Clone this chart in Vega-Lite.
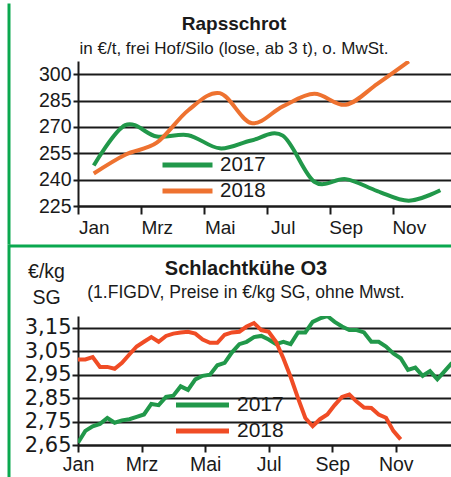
{
  "$schema": "https://vega.github.io/schema/vega-lite/v6.json",
  "background": "white",
  "padding": {"left": 5, "top": 0, "right": 0, "bottom": 0},
  "spacing": 110,
  "bounds": "flush",
  "config": {
    "font": "Liberation Sans",
    "view": {"stroke": null},
    "axis": {
      "labelColor": "#1a1a1a",
      "domainColor": "#1a1a1a",
      "tickColor": "#1a1a1a",
      "gridColor": "#1a1a1a",
      "gridOpacity": 1,
      "domainWidth": 2,
      "tickWidth": 2,
      "gridWidth": 2,
      "title": null
    },
    "legend": {"labelColor": "#1a1a1a"}
  },
  "datasets": {
    "raps": [
      {"jahr": "2017", "monat": 1, "preis": 248},
      {"jahr": "2017", "monat": 2, "preis": 271},
      {"jahr": "2017", "monat": 3, "preis": 264.5},
      {"jahr": "2017", "monat": 4, "preis": 265.3},
      {"jahr": "2017", "monat": 5, "preis": 257.8},
      {"jahr": "2017", "monat": 6, "preis": 262.3},
      {"jahr": "2017", "monat": 7, "preis": 265},
      {"jahr": "2017", "monat": 8, "preis": 238.8},
      {"jahr": "2017", "monat": 9, "preis": 240.3},
      {"jahr": "2017", "monat": 10, "preis": 233.5},
      {"jahr": "2017", "monat": 11, "preis": 228},
      {"jahr": "2017", "monat": 12, "preis": 234},
      {"jahr": "2018", "monat": 1, "preis": 243.5},
      {"jahr": "2018", "monat": 2, "preis": 254.2},
      {"jahr": "2018", "monat": 3, "preis": 261},
      {"jahr": "2018", "monat": 4, "preis": 279.5},
      {"jahr": "2018", "monat": 5, "preis": 289.2},
      {"jahr": "2018", "monat": 6, "preis": 272.2},
      {"jahr": "2018", "monat": 7, "preis": 281.7},
      {"jahr": "2018", "monat": 8, "preis": 288.8},
      {"jahr": "2018", "monat": 9, "preis": 282.6},
      {"jahr": "2018", "monat": 10, "preis": 294.5},
      {"jahr": "2018", "monat": 11, "preis": 307.3}
    ],
    "kuehe": [
      {"jahr": "2017", "kw": 1, "preis": 2.66},
      {"jahr": "2017", "kw": 2, "preis": 2.71},
      {"jahr": "2017", "kw": 3, "preis": 2.73},
      {"jahr": "2017", "kw": 4, "preis": 2.74},
      {"jahr": "2017", "kw": 5, "preis": 2.765},
      {"jahr": "2017", "kw": 6, "preis": 2.745},
      {"jahr": "2017", "kw": 7, "preis": 2.755},
      {"jahr": "2017", "kw": 8, "preis": 2.76},
      {"jahr": "2017", "kw": 9, "preis": 2.77},
      {"jahr": "2017", "kw": 10, "preis": 2.78},
      {"jahr": "2017", "kw": 11, "preis": 2.825},
      {"jahr": "2017", "kw": 12, "preis": 2.82},
      {"jahr": "2017", "kw": 13, "preis": 2.855},
      {"jahr": "2017", "kw": 14, "preis": 2.86},
      {"jahr": "2017", "kw": 15, "preis": 2.9},
      {"jahr": "2017", "kw": 16, "preis": 2.885},
      {"jahr": "2017", "kw": 17, "preis": 2.93},
      {"jahr": "2017", "kw": 18, "preis": 2.945},
      {"jahr": "2017", "kw": 19, "preis": 2.95},
      {"jahr": "2017", "kw": 20, "preis": 2.99},
      {"jahr": "2017", "kw": 21, "preis": 3.0},
      {"jahr": "2017", "kw": 22, "preis": 3.045},
      {"jahr": "2017", "kw": 23, "preis": 3.08},
      {"jahr": "2017", "kw": 24, "preis": 3.09},
      {"jahr": "2017", "kw": 25, "preis": 3.11},
      {"jahr": "2017", "kw": 26, "preis": 3.115},
      {"jahr": "2017", "kw": 27, "preis": 3.1},
      {"jahr": "2017", "kw": 28, "preis": 3.08},
      {"jahr": "2017", "kw": 29, "preis": 3.09},
      {"jahr": "2017", "kw": 30, "preis": 3.08},
      {"jahr": "2017", "kw": 31, "preis": 3.13},
      {"jahr": "2017", "kw": 32, "preis": 3.13},
      {"jahr": "2017", "kw": 33, "preis": 3.175},
      {"jahr": "2017", "kw": 34, "preis": 3.19},
      {"jahr": "2017", "kw": 35, "preis": 3.2},
      {"jahr": "2017", "kw": 36, "preis": 3.175},
      {"jahr": "2017", "kw": 37, "preis": 3.155},
      {"jahr": "2017", "kw": 38, "preis": 3.14},
      {"jahr": "2017", "kw": 39, "preis": 3.14},
      {"jahr": "2017", "kw": 40, "preis": 3.13},
      {"jahr": "2017", "kw": 41, "preis": 3.09},
      {"jahr": "2017", "kw": 42, "preis": 3.09},
      {"jahr": "2017", "kw": 43, "preis": 3.07},
      {"jahr": "2017", "kw": 44, "preis": 3.04},
      {"jahr": "2017", "kw": 45, "preis": 3.02},
      {"jahr": "2017", "kw": 46, "preis": 2.97},
      {"jahr": "2017", "kw": 47, "preis": 2.98},
      {"jahr": "2017", "kw": 48, "preis": 2.945},
      {"jahr": "2017", "kw": 49, "preis": 2.965},
      {"jahr": "2017", "kw": 50, "preis": 2.93},
      {"jahr": "2017", "kw": 51, "preis": 2.965},
      {"jahr": "2017", "kw": 52, "preis": 3.0},
      {"jahr": "2018", "kw": 1, "preis": 3.015},
      {"jahr": "2018", "kw": 2, "preis": 3.015},
      {"jahr": "2018", "kw": 3, "preis": 3.025},
      {"jahr": "2018", "kw": 4, "preis": 2.983},
      {"jahr": "2018", "kw": 5, "preis": 2.983},
      {"jahr": "2018", "kw": 6, "preis": 2.975},
      {"jahr": "2018", "kw": 7, "preis": 3.0},
      {"jahr": "2018", "kw": 8, "preis": 3.036},
      {"jahr": "2018", "kw": 9, "preis": 3.07},
      {"jahr": "2018", "kw": 10, "preis": 3.09},
      {"jahr": "2018", "kw": 11, "preis": 3.11},
      {"jahr": "2018", "kw": 12, "preis": 3.09},
      {"jahr": "2018", "kw": 13, "preis": 3.115},
      {"jahr": "2018", "kw": 14, "preis": 3.125},
      {"jahr": "2018", "kw": 15, "preis": 3.13},
      {"jahr": "2018", "kw": 16, "preis": 3.133},
      {"jahr": "2018", "kw": 17, "preis": 3.125},
      {"jahr": "2018", "kw": 18, "preis": 3.1},
      {"jahr": "2018", "kw": 19, "preis": 3.086},
      {"jahr": "2018", "kw": 20, "preis": 3.086},
      {"jahr": "2018", "kw": 21, "preis": 3.12},
      {"jahr": "2018", "kw": 22, "preis": 3.13},
      {"jahr": "2018", "kw": 23, "preis": 3.133},
      {"jahr": "2018", "kw": 24, "preis": 3.155},
      {"jahr": "2018", "kw": 25, "preis": 3.17},
      {"jahr": "2018", "kw": 26, "preis": 3.14},
      {"jahr": "2018", "kw": 27, "preis": 3.133},
      {"jahr": "2018", "kw": 28, "preis": 3.09},
      {"jahr": "2018", "kw": 29, "preis": 3.02},
      {"jahr": "2018", "kw": 30, "preis": 2.94},
      {"jahr": "2018", "kw": 31, "preis": 2.85},
      {"jahr": "2018", "kw": 32, "preis": 2.765},
      {"jahr": "2018", "kw": 33, "preis": 2.73},
      {"jahr": "2018", "kw": 34, "preis": 2.76},
      {"jahr": "2018", "kw": 35, "preis": 2.78},
      {"jahr": "2018", "kw": 36, "preis": 2.82},
      {"jahr": "2018", "kw": 37, "preis": 2.855},
      {"jahr": "2018", "kw": 38, "preis": 2.865},
      {"jahr": "2018", "kw": 39, "preis": 2.835},
      {"jahr": "2018", "kw": 40, "preis": 2.81},
      {"jahr": "2018", "kw": 41, "preis": 2.808},
      {"jahr": "2018", "kw": 42, "preis": 2.78},
      {"jahr": "2018", "kw": 43, "preis": 2.766},
      {"jahr": "2018", "kw": 44, "preis": 2.71},
      {"jahr": "2018", "kw": 45, "preis": 2.674}
    ]
  },
  "resolve": {
    "scale": {"color": "independent", "x": "independent", "y": "independent"},
    "legend": {"color": "independent"}
  },
  "vconcat": [
    {
      "width": 374,
      "height": 145,
      "title": {
        "text": "Rapsschrot",
        "subtitle": "in €/t, frei Hof/Silo (lose, ab 3 t), o. MwSt.",
        "anchor": "middle",
        "frame": "group",
        "dx": -31,
        "offset": -56,
        "font": "Liberation Sans",
        "fontSize": 19,
        "fontWeight": "bold",
        "color": "#1a1a1a",
        "subtitleFont": "Liberation Sans",
        "subtitleFontSize": 17,
        "subtitleColor": "#1a1a1a",
        "subtitlePadding": 7
      },
      "data": {"name": "raps"},
      "layer": [
        {
          "mark": {"type": "line", "interpolate": "cardinal", "strokeWidth": 4, "clip": true},
          "encoding": {
            "x": {
              "field": "monat",
              "type": "quantitative",
              "scale": {"domain": [0.5, 12.37], "nice": false, "zero": false},
              "axis": {
                "values": [0.5, 2.5, 4.5, 6.5, 8.5, 10.5],
                "labelExpr": "datum.value < 1.5 ? 'Jan' : datum.value < 3.5 ? 'Mrz' : datum.value < 5.5 ? 'Mai' : datum.value < 7.5 ? 'Jul' : datum.value < 9.5 ? 'Sep' : 'Nov'",
                "labelOffset": 15.7,
                "labelFlush": false,
                "labelFontSize": 19,
                "labelPadding": 4,
                "tickSize": 8,
                "grid": false,
                "labelOverlap": false
              }
            },
            "y": {
              "field": "preis",
              "type": "quantitative",
              "scale": {"domain": [225, 307.5], "nice": false, "zero": false},
              "axis": {
                "values": [225, 240, 255, 270, 285, 300],
                "grid": true,
                "tickSize": 5,
                "labelFontSize": 19.5,
                "labelPadding": 2
              }
            },
            "color": {
              "field": "jahr",
              "type": "nominal",
              "scale": {"domain": ["2017", "2018"], "range": ["#21984a", "#ee7230"]},
              "legend": {
                "orient": "none",
                "legendX": 94.5,
                "legendY": 89,
                "title": null,
                "symbolType": "M-2,0H2",
                "symbolSize": 625,
                "symbolStrokeWidth": 5,
                "labelFontSize": 20.5,
                "labelOffset": 17.5,
                "rowPadding": 0
              }
            }
          }
        },
        {
          "mark": {"type": "point", "opacity": 0},
          "encoding": {
            "y": {
              "field": "preis",
              "type": "quantitative",
              "scale": {"domain": [225, 307.5], "range": [183, -58], "nice": false, "zero": false},
              "axis": {
                "orient": "left",
                "offset": 69.5,
                "domainColor": "#0aa84f",
                "domainWidth": 3,
                "labels": false,
                "ticks": false,
                "grid": false,
                "title": null
              }
            }
          }
        }
      ],
      "resolve": {"scale": {"y": "independent"}, "axis": {"y": "independent"}}
    },
    {
      "width": 374,
      "height": 129,
      "title": {
        "text": "Schlachtkühe O3",
        "subtitle": "(1.FIGDV, Preise in €/kg SG, ohne Mwst.",
        "anchor": "middle",
        "frame": "group",
        "dx": -19,
        "offset": -60,
        "font": "Liberation Sans",
        "fontSize": 20,
        "fontWeight": "bold",
        "color": "#1a1a1a",
        "subtitleFont": "Liberation Sans",
        "subtitleFontSize": 17.5,
        "subtitleColor": "#1a1a1a",
        "subtitlePadding": 5
      },
      "data": {"name": "kuehe"},
      "layer": [
        {
          "mark": {"type": "line", "strokeWidth": 4, "clip": true},
          "encoding": {
            "x": {
              "field": "kw",
              "type": "quantitative",
              "scale": {"domain": [1, 52.0], "nice": false, "zero": false},
              "axis": {
                "values": [1, 9.667, 18.333, 27, 35.667, 44.333],
                "labelExpr": "datum.value < 5 ? 'Jan' : datum.value < 14 ? 'Mrz' : datum.value < 22 ? 'Mai' : datum.value < 31 ? 'Jul' : datum.value < 40 ? 'Sep' : 'Nov'",
                "labelFlush": false,
                "labelFontSize": 19.5,
                "labelPadding": 3,
                "tickSize": 7,
                "grid": false,
                "labelOverlap": false
              }
            },
            "y": {
              "field": "preis",
              "type": "quantitative",
              "scale": {"domain": [2.65, 3.2], "nice": false, "zero": false},
              "axis": {
                "values": [2.65, 2.75, 2.85, 2.95, 3.05, 3.15],
                "labelExpr": "replace(format(datum.value, '.2f'), '.', ',')",
                "grid": true,
                "tickSize": 6,
                "labelFont": "DejaVu Sans",
                "labelFontSize": 21,
                "labelPadding": 1,
                "title": ["€/kg", "SG"],
                "titleAngle": 0,
                "titleAlign": "center",
                "titleBaseline": "alphabetic",
                "titleX": -32,
                "titleY": -39,
                "titleFontSize": 19.5,
                "titleFontWeight": "normal",
                "titleColor": "#1a1a1a",
                "titleLineHeight": 26
              }
            },
            "color": {
              "field": "jahr",
              "type": "nominal",
              "scale": {"domain": ["2017", "2018"], "range": ["#21984a", "#f04c25"]},
              "legend": {
                "orient": "none",
                "legendX": 108.5,
                "legendY": 73,
                "title": null,
                "symbolType": "M-2,0H2",
                "symbolSize": 702,
                "symbolStrokeWidth": 5,
                "labelFontSize": 21,
                "labelOffset": 18.5,
                "rowPadding": 0
              }
            }
          }
        },
        {
          "mark": {"type": "point", "opacity": 0},
          "encoding": {
            "x": {
              "field": "kw",
              "type": "quantitative",
              "scale": {"domain": [1, 52.0], "range": [-69.5, 374], "nice": false, "zero": false},
              "axis": {
                "orient": "top",
                "offset": 70.5,
                "domainColor": "#0aa84f",
                "domainWidth": 3,
                "labels": false,
                "ticks": false,
                "grid": false,
                "title": null
              }
            },
            "y": {
              "field": "preis",
              "type": "quantitative",
              "scale": {"domain": [2.65, 3.2], "range": [161, -72], "nice": false, "zero": false},
              "axis": {
                "orient": "left",
                "offset": 69.5,
                "domainColor": "#0aa84f",
                "domainWidth": 3,
                "labels": false,
                "ticks": false,
                "grid": false,
                "title": null
              }
            }
          }
        }
      ],
      "resolve": {
        "scale": {"x": "independent", "y": "independent"},
        "axis": {"x": "independent", "y": "independent"}
      }
    }
  ]
}
